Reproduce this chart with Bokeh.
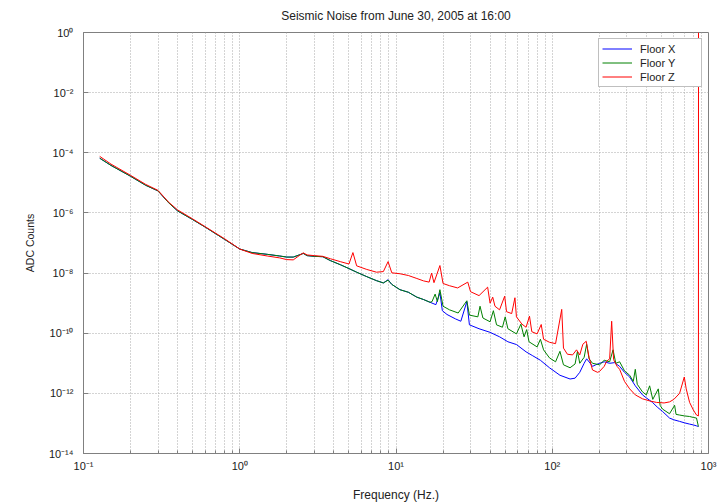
from bokeh.plotting import figure
from bokeh.models import (FixedTicker, CustomJSTickFormatter, Legend, LegendItem,
                          Range1d, ColumnDataSource)
from bokeh.embed import file_html
from bokeh.resources import INLINE

# ---------------- data ----------------
x_freq = [0.127, 0.15, 0.2, 0.25, 0.3, 0.35, 0.4, 0.5, 0.6, 0.8, 1.0, 1.2, 1.5, 1.8, 2.0, 2.2,
          2.4, 2.55, 2.7, 3.0, 3.4, 3.8, 4.4, 5.0, 5.6, 6.5, 7.5, 8.3, 8.9, 9.4, 10.6,
          12, 13.6, 15, 16.5, 18, 19.1, 19.8, 21.2, 24, 26, 28.4, 29.5, 34, 40, 46,
          52, 59, 68, 75, 84, 96, 112, 130, 140, 150, 160, 166, 175, 181, 190, 201,
          215, 233, 250, 270, 290, 313, 340, 378, 400, 438, 470, 508, 563, 600, 653,
          700, 757, 800, 838, 862]
x_counts = [6.6e-5, 3.8e-5, 1.66e-5, 8.3e-6, 5.4e-6, 2.2e-6, 1.17e-6, 6.0e-7, 3.4e-7, 1.32e-7,
            6.3e-8, 4.8e-8, 4.2e-8, 3.7e-8, 3.4e-8, 3.4e-8, 4.0e-8, 4.5e-8, 3.8e-8,
            3.6e-8, 3.5e-8, 2.6e-8, 1.9e-8, 1.41e-8, 1.07e-8, 7.6e-9, 5.6e-9, 4.7e-9,
            6.0e-9, 4.2e-9, 2.8e-9, 2.3e-9, 1.58e-9, 1.32e-9, 1.07e-9, 8.9e-10, 2.2e-9,
            5.6e-10, 4.2e-10, 3.0e-10, 2.5e-10, 1.12e-9, 1.9e-10, 1.41e-10, 1.07e-10,
            7.6e-11, 5.2e-11, 4.2e-11, 2.4e-11, 1.78e-11, 1.26e-11, 7.1e-12, 4.0e-12,
            3.0e-12, 3.2e-12, 5.0e-12, 1.0e-11, 1.41e-11, 1.0e-11, 7.9e-12, 8.9e-12,
            1.0e-11, 1.12e-11, 1.0e-11, 1.05e-11, 7.9e-12, 5.0e-12, 3.5e-12, 1.78e-12,
            8.9e-13, 7.1e-13, 5.0e-13, 3.5e-13, 2.5e-13, 1.51e-13, 1.32e-13, 1.17e-13,
            1.05e-13, 9.5e-14, 8.9e-14, 8.3e-14, 7.9e-14]

y_freq = [0.127, 0.15, 0.2, 0.25, 0.3, 0.35, 0.4, 0.5, 0.6, 0.8, 1.0, 1.2, 1.5, 1.8, 2.0, 2.2,
          2.4, 2.55, 2.7, 3.0, 3.4, 3.8, 4.4, 5.0, 5.6, 6.5, 7.5, 8.3, 8.9, 9.4, 10.6,
          12, 13.6, 15, 16.5, 17.0, 17.8, 18.4, 19.1, 20, 22, 25, 28.4, 29.5, 33.4,
          34.5, 36, 40, 42, 44, 48, 50, 52, 59, 63, 66, 68.6, 71, 80, 84, 88, 96, 105,
          112, 118, 130, 140, 145, 150, 160, 166, 172, 181, 201, 215, 233, 245, 255,
          270, 290, 313, 330, 340, 350, 378, 400, 420, 440, 477, 490, 508, 563, 607,
          620, 653, 700, 757, 800, 838, 862]
y_counts = [6.6e-5, 3.8e-5, 1.66e-5, 8.3e-6, 5.4e-6, 2.2e-6, 1.17e-6, 6.0e-7, 3.4e-7, 1.32e-7,
            6.3e-8, 4.8e-8, 4.2e-8, 3.7e-8, 3.4e-8, 3.4e-8, 4.0e-8, 4.5e-8, 3.8e-8,
            3.6e-8, 3.5e-8, 2.6e-8, 1.9e-8, 1.41e-8, 1.07e-8, 7.6e-9, 5.6e-9, 4.7e-9,
            5.8e-9, 4.2e-9, 2.8e-9, 2.3e-9, 1.58e-9, 1.32e-9, 1.07e-9, 1.12e-9, 2.0e-9,
            1.12e-9, 2.8e-9, 7.9e-10, 6.0e-10, 4.7e-10, 1.2e-9, 4.0e-10, 3.5e-10,
            7.9e-10, 3.2e-10, 2.4e-10, 5.6e-10, 1.9e-10, 1.58e-10, 3.5e-10, 1.41e-10,
            9.5e-11, 2.0e-10, 7.6e-11, 1.32e-10, 5.2e-11, 3.5e-11, 6.3e-11, 2.8e-11,
            1.51e-11, 1.12e-11, 2.5e-11, 8.9e-12, 7.1e-12, 9.5e-12, 2.5e-11, 1.0e-11,
            1.58e-11, 4.3e-11, 1.41e-11, 1.0e-11, 8.9e-12, 1.26e-11, 1.12e-11, 2.8e-11,
            1.0e-11, 1.12e-11, 5.6e-12, 4.0e-12, 2.5e-12, 6.3e-12, 2.0e-12, 1.12e-12,
            8.9e-13, 1.78e-12, 6.3e-13, 1.41e-12, 4.0e-13, 3.0e-13, 2.1e-13, 4.0e-13,
            2.0e-13, 1.9e-13, 1.78e-13, 1.7e-13, 1.58e-13, 1.51e-13, 7.9e-14]

z_freq = [0.127, 0.15, 0.2, 0.25, 0.3, 0.35, 0.4, 0.5, 0.6, 0.8, 1.0, 1.2, 1.5, 1.8, 2.0, 2.2,
          2.4, 2.55, 2.7, 3.0, 3.4, 3.8, 4.4, 5.0, 5.3, 5.6, 6.5, 7.5, 8.3, 8.9, 9.4,
          10.6, 12, 13.6, 15, 16.3, 16.9, 17.5, 19.1, 20, 22, 24.8, 28.8, 30, 34, 38.6,
          40, 41.6, 43, 46, 49.6, 51, 55, 57.7, 59, 64, 68, 71.5, 74, 80, 85, 88, 96,
          105, 115, 118, 125, 135, 143, 150, 157, 165, 172, 181, 195, 201, 215, 223,
          233, 240, 247, 260, 270, 290, 313, 340, 378, 420, 465, 520, 563, 600, 653,
          700, 720, 757, 800, 838, 862, 863]
z_counts = [7.6e-5, 4.2e-5, 1.78e-5, 8.9e-6, 5.6e-6, 2.3e-6, 1.26e-6, 6.3e-7, 3.5e-7, 1.38e-7,
            6.3e-8, 4.5e-8, 3.7e-8, 3.2e-8, 2.8e-8, 2.75e-8, 3.8e-8, 4.7e-8, 4.0e-8,
            3.8e-8, 3.6e-8, 3.0e-8, 2.4e-8, 2.0e-8, 4.8e-8, 1.74e-8, 1.32e-8, 1.07e-8,
            1.12e-8, 2.4e-8, 1.02e-8, 9.5e-9, 8.3e-9, 6.6e-9, 5.5e-9, 5.0e-9, 1.0e-8,
            4.8e-9, 1.78e-8, 4.5e-9, 3.8e-9, 3.2e-9, 5.0e-9, 2.4e-9, 1.78e-9, 3.4e-9,
            1.0e-9, 1.58e-9, 7.9e-10, 6.0e-10, 1.7e-9, 5.2e-10, 4.5e-10, 1.51e-9,
            3.5e-10, 2.0e-10, 1.58e-10, 3.7e-10, 1.12e-10, 9.5e-11, 1.95e-10, 6.3e-11,
            5.0e-11, 4.5e-11, 6.2e-10, 3.2e-11, 2.0e-11, 1.9e-11, 2.8e-11, 1.9e-11,
            4.3e-11, 5.4e-11, 1.58e-11, 6.0e-12, 5.0e-12, 5.4e-12, 7.9e-12, 1.17e-11,
            1.41e-11, 2.5e-10, 1.32e-11, 7.9e-12, 6.3e-12, 2.5e-12, 1.41e-12, 8.9e-13,
            6.6e-13, 5.6e-13, 5.0e-13, 4.8e-13, 5.2e-13, 6.3e-13, 1.0e-12, 3.5e-12,
            1.41e-12, 5.0e-13, 2.8e-13, 1.9e-13, 1.78e-13, 1.0]

series_names = ["Floor X", "Floor Y", "Floor Z"]
series_colors = ["#0000ff", "#008000", "#ff0000"]
title_text = "Seismic Noise from June 30, 2005 at 16:00"

x_ticks = [0.1, 1, 10, 100, 1000]
x_minor = [m * d for d in [0.1, 1, 10, 100] for m in range(2, 10)]
y_ticks = [1e-14, 1e-12, 1e-10, 1e-8, 1e-6, 1e-4, 1e-2, 1e0]

FONT = "Liberation Sans"

p = figure(width=723, height=504, x_axis_type="log", y_axis_type="log",
           x_range=Range1d(0.1, 1000), y_range=Range1d(1e-14, 1),
           output_backend="svg", toolbar_location=None, title=title_text,
           min_border_left=83, min_border_right=15, min_border_top=32,
           min_border_bottom=51)
p.background_fill_color = "white"
p.border_fill_color = "white"
p.outline_line_color = "#808080"

p.title.align = "center"
p.title.vertical_align = "top"
p.title.text_font = FONT
p.title.text_font_size = "12px"
p.title.text_font_style = "normal"
p.title.text_color = "#222222"
p.title.standoff = 16

sup = """
const e = Math.round(Math.log10(tick));
const m = {'-':'\u207b','0':'\u2070','1':'\u00b9','2':'\u00b2','3':'\u00b3','4':'\u2074',
           '5':'\u2075','6':'\u2076','7':'\u2077','8':'\u2078','9':'\u2079'};
return '10' + String(e).split('').map(c => m[c]).join('');
"""

for ax in (p.xaxis[0], p.yaxis[0]):
    ax.formatter = CustomJSTickFormatter(code=sup)
    ax.major_label_text_font = FONT
    ax.major_label_text_font_size = "11px"
    ax.major_label_text_color = "#1a1a1a"
    ax.axis_label_text_font = FONT
    ax.axis_label_text_font_style = "normal"
    ax.axis_label_text_color = "#222222"
    ax.axis_line_color = "#808080"
    ax.major_tick_line_color = "#808080"
    ax.minor_tick_line_color = "#808080"
    ax.major_tick_in = 5
    ax.major_tick_out = 0
    ax.minor_tick_in = 3
    ax.minor_tick_out = 0

p.xaxis.ticker = FixedTicker(ticks=x_ticks, minor_ticks=x_minor)
p.yaxis.ticker = FixedTicker(ticks=y_ticks, minor_ticks=[])
p.xaxis.axis_label = "Frequency (Hz.)"
p.yaxis.axis_label = "ADC Counts"
p.xaxis.axis_label_text_font_size = "12px"
p.yaxis.axis_label_text_font_size = "10.5px"
p.xaxis.major_label_standoff = 6
p.yaxis.major_label_standoff = 10
p.xaxis.axis_label_standoff = 13
p.yaxis.axis_label_standoff = 10

for g in (p.xgrid, p.ygrid):
    g.grid_line_color = "#a8a8a8"
    g.grid_line_dash = "1 2"
    g.grid_line_width = 1
p.xgrid.minor_grid_line_color = "#a8a8a8"
p.xgrid.minor_grid_line_dash = "1 2"

renderers = []
for f, c, col in ((x_freq, x_counts, series_colors[0]),
                  (y_freq, y_counts, series_colors[1]),
                  (z_freq, z_counts, series_colors[2])):
    src = ColumnDataSource(dict(f=f, c=c))
    renderers.append(p.line("f", "c", source=src, line_color=col, line_width=1))

legend = Legend(items=[LegendItem(label=n, renderers=[r]) for n, r in zip(series_names, renderers)],
                location="top_right")
legend.label_text_font = FONT
legend.label_text_font_size = "11px"
legend.label_text_color = "#222222"
legend.border_line_color = "#808080"
legend.background_fill_color = "white"
legend.background_fill_alpha = 1.0
legend.glyph_width = 30
legend.glyph_height = 13
legend.label_height = 13
legend.label_width = 58
legend.label_standoff = 8
legend.spacing = 1
legend.padding = 3
legend.margin = 6
p.add_layout(legend)

open("out.html", "w").write(file_html(p, INLINE))
